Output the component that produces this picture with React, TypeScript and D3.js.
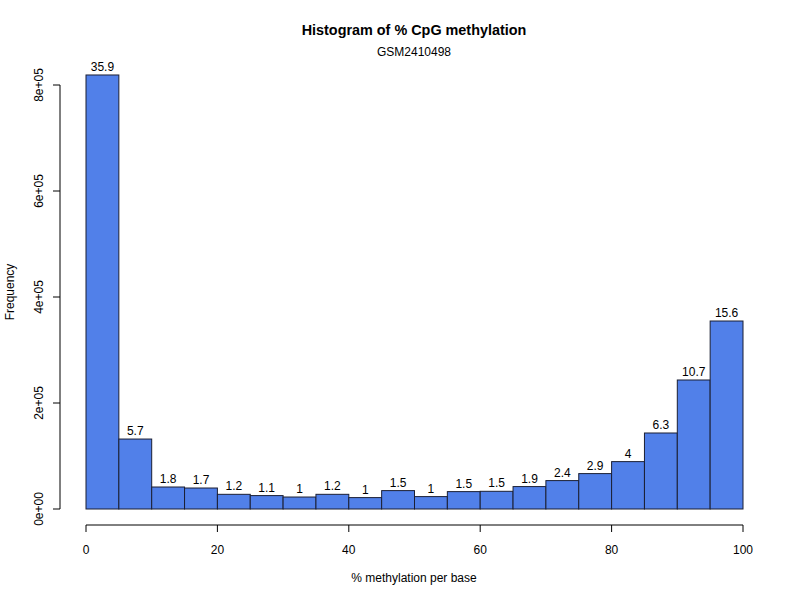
import React from 'react';
import * as d3 from 'd3';

// histogram bins (% methylation per base), width 5
const binStarts = [0, 5, 10, 15, 20, 25, 30, 35, 40, 45, 50, 55, 60, 65, 70, 75, 80, 85, 90, 95];
const counts = [818900, 132000, 41500, 39600, 27700, 25300, 22600, 27700, 21500, 34700,
  23400, 32800, 33400, 42300, 53600, 66800, 89400, 143400, 243400, 354700];
const percentLabels = ['35.9', '5.7', '1.8', '1.7', '1.2', '1.1', '1', '1.2', '1', '1.5',
  '1', '1.5', '1.5', '1.9', '2.4', '2.9', '4', '6.3', '10.7', '15.6'];
const xTicks = [0, 20, 40, 60, 80, 100];
const yTicks = [0, 200000, 400000, 600000, 800000];
const yTickLabels = ['0e+00', '2e+05', '4e+05', '6e+05', '8e+05'];

const FONT = '"Liberation Sans", Arial, Helvetica, sans-serif';

export default function App() {
  const width = 800;
  const height = 600;

  const x = d3.scaleLinear().domain([0, 100]).range([86, 743]);
  const y = d3.scaleLinear().domain([0, 800000]).range([509, 85]);

  const axisY = 525;
  const axisX = 60;

  return (
    <svg width={width} height={height} style={{ position: 'absolute', left: 0, top: 0, background: '#fff' }}
      fontFamily={FONT}>
      <rect x={0} y={0} width={width} height={height} fill="#fff" />

      {/* title */}
      <text x={414} y={35} textAnchor="middle" fontSize={14.4} fontWeight="bold" fill="#000">
        Histogram of % CpG methylation
      </text>
      <text x={414} y={56} textAnchor="middle" fontSize={12} fill="#000">GSM2410498</text>

      {/* bars */}
      {binStarts.map((s, i) => (
        <g key={i}>
          <rect
            x={x(s)}
            y={y(counts[i])}
            width={x(s + 5) - x(s)}
            height={y(0) - y(counts[i])}
            fill="#5180E9"
            stroke="#1b1f33"
            strokeWidth={1}
          />
          <text x={x(s + 2.5)} y={y(counts[i]) - 4} textAnchor="middle" fontSize={12} fill="#000">
            {percentLabels[i]}
          </text>
        </g>
      ))}

      {/* x axis */}
      <line x1={x(0)} x2={x(100)} y1={axisY} y2={axisY} stroke="#000" />
      {xTicks.map(t => (
        <g key={t}>
          <line x1={x(t)} x2={x(t)} y1={axisY} y2={axisY + 7} stroke="#000" />
          <text x={x(t)} y={axisY + 29} textAnchor="middle" fontSize={12} fill="#000">{t}</text>
        </g>
      ))}
      <text x={414} y={582} textAnchor="middle" fontSize={12} fill="#000">% methylation per base</text>

      {/* y axis */}
      <line x1={axisX} x2={axisX} y1={y(0)} y2={y(800000)} stroke="#000" />
      {yTicks.map((t, i) => (
        <g key={t}>
          <line x1={axisX - 7} x2={axisX} y1={y(t)} y2={y(t)} stroke="#000" />
          <text transform={`translate(${axisX - 17},${y(t)}) rotate(-90)`} textAnchor="middle"
            fontSize={12} fill="#000">{yTickLabels[i]}</text>
        </g>
      ))}
      <text transform={`translate(14,292) rotate(-90)`} textAnchor="middle" fontSize={12} fill="#000">
        Frequency
      </text>
    </svg>
  );
}
